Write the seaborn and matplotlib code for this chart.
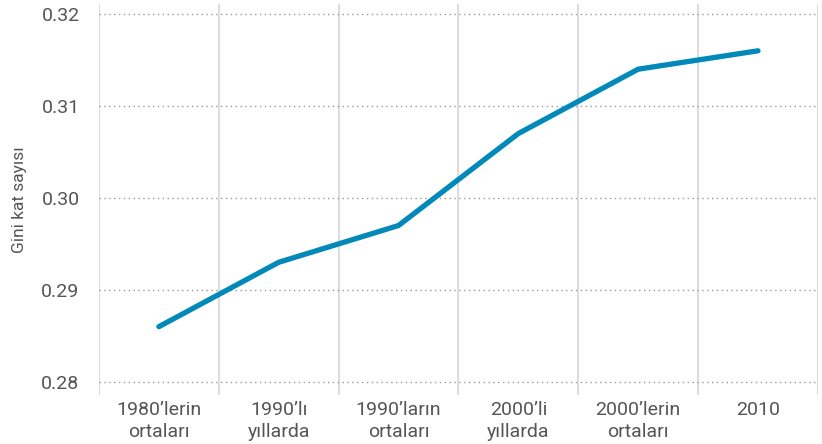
import matplotlib
matplotlib.use("Agg")
import matplotlib.pyplot as plt
import seaborn as sns
import pandas as pd
import numpy as np

periods = ["1980\u2019lerin\nortaları", "1990\u2019lı\nyıllarda", "1990\u2019ların\nortaları",
           "2000\u2019li\nyıllarda", "2000\u2019lerin\nortaları", "2010"]
gini = [0.286, 0.293, 0.297, 0.307, 0.314, 0.316]
yticks = [0.28, 0.29, 0.30, 0.31, 0.32]

df = pd.DataFrame({"period": periods, "gini": gini})

sns.set_theme(style="white")
plt.rcParams["font.family"] = ["Roboto", "DejaVu Sans"]

fig = plt.figure(figsize=(8.22, 4.44), dpi=100)
ax = fig.add_axes([0.1204, 0.1104, 0.8746, 0.8806])

sns.lineplot(data=df, x="period", y="gini", color="#0089B9", linewidth=3.8,
             solid_capstyle="round", ax=ax, sort=False)

ax.set_xlim(-0.5, len(periods) - 0.5)
ax.set_ylim(0.27857, 0.32109)
ax.set_yticks(yticks)
ax.set_yticklabels([f"{v:.2f}" for v in yticks])
ax.set_xticks(range(len(periods)))
ax.set_xticklabels(periods, linespacing=1.3)
ax.set_xticks(np.arange(-0.5, len(periods)), minor=True)

ax.grid(False)
ax.yaxis.grid(True, linestyle=(0, (1, 2.5)), color="#999999", linewidth=1.0)
ax.xaxis.grid(True, which="minor", linestyle="-", color="#dddddd", linewidth=1.5)
ax.set_axisbelow(True)

ax.tick_params(axis="both", which="both", length=0, colors="#555555", labelsize=14)
ax.tick_params(axis="y", pad=14)
ax.tick_params(axis="x", pad=4)
for s in ax.spines.values():
    s.set_visible(False)

ax.set_xlabel("")
ax.set_ylabel("Gini kat sayısı", fontsize=12.5, color="#555555", fontweight="normal")
ax.yaxis.set_label_coords(-0.1, 0.5)

fig.savefig("out.png", dpi=100)
